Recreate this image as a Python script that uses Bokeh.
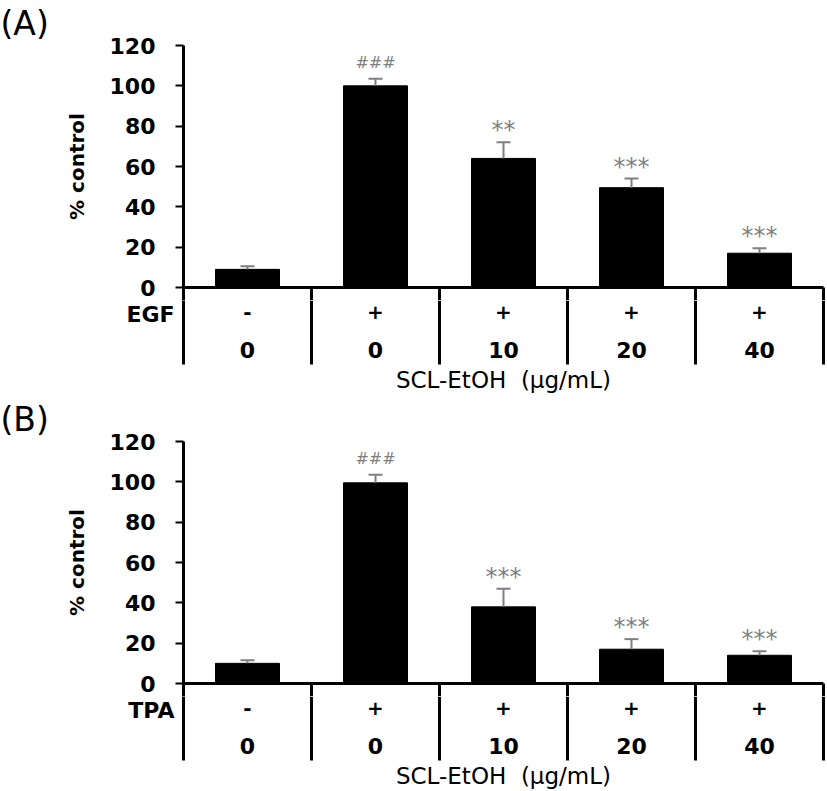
import math
from bokeh.plotting import figure
from bokeh.models import Range1d, FixedTicker, Whisker, TeeHead, ColumnDataSource, LinearAxis
from bokeh.layouts import column
from bokeh.embed import file_html
from bokeh.resources import INLINE
from bokeh.core.properties import value

# ---------------- data ----------------
stim_signs = ["-", "+", "+", "+", "+"]
doses = ["0", "0", "10", "20", "40"]

egf_mean = [9, 100, 64, 49.5, 17]
egf_err = [1.5, 3.5, 8, 4.5, 2.5]
egf_sig = ["", "###", "**", "***", "***"]

tpa_mean = [10, 99.5, 38, 17, 14]
tpa_err = [1.5, 4, 9, 5, 2]
tpa_sig = ["", "###", "***", "***", "***"]

y_ticks = [0, 20, 40, 60, 80, 100, 120]
panel_tags = ["(A)", "(B)"]
stimuli = ["EGF", "TPA"]
x_title = "SCL-EtOH\u00a0\u00a0(μg/mL)"
y_title = "% control"

# ---------------- layout constants ----------------
FIG_W = 827
LEFT = 183
TOP = 45
YMAX = 120
PPU = 242 / 120.0          # pixels per y unit
CAT_PX = 128.0             # pixels per category
TOP_H = 300                # height of the bar figure
FONT = "DejaVu Sans"
GRAY = "#7f7f7f"
ROW1 = -12                 # stimulus row (data units below 0)
ROW2 = -31                 # dose row
TITLE_Y = -46
TABLE_BOTTOM = -38.2
YLABEL_AT = 60


def px_to_y(py):
    return -py / PPU


def base_fig(**kw):
    p = figure(output_backend="svg", toolbar_location=None, **kw)
    p.grid.visible = False
    p.outline_line_color = None
    p.background_fill_color = "white"
    p.border_fill_color = "white"
    return p


def style_axis(ax, size):
    ax.major_label_text_font = FONT
    ax.major_label_text_font_style = "bold"
    ax.major_label_text_font_size = size
    ax.major_label_text_color = "black"
    ax.minor_tick_out = 0
    ax.minor_tick_in = 0
    ax.major_tick_in = 0


def make_panel(tag, stim, means, errs, sigs, bottom_h):
    n = len(means)
    zero_px = TOP + YMAX * PPU
    y_start = px_to_y(TOP_H - zero_px)
    x_end = (FIG_W - LEFT) / CAT_PX
    centers = [i + 0.5 for i in range(n)]
    uppers = [m + e for m, e in zip(means, errs)]
    bounds = list(range(n + 1))

    # ---------- bar figure ----------
    p = base_fig(width=FIG_W, height=TOP_H,
                 x_range=Range1d(0, x_end), y_range=Range1d(y_start, YMAX),
                 x_axis_location=None, y_axis_location="left",
                 min_border_left=LEFT, min_border_right=0, min_border_top=TOP,
                 min_border_bottom=0)
    p.title.text = tag
    p.title.align = "left"
    p.title.offset = -LEFT
    p.title.text_font = FONT
    p.title.text_font_size = "33px"
    p.title.text_font_style = "normal"
    p.title.text_color = "black"
    p.title.standoff = 2
    p.title.vertical_align = "top"

    ax = p.yaxis[0]
    ax.ticker = FixedTicker(ticks=y_ticks)
    ax.bounds = (y_start, YMAX)
    ax.axis_line_width = 3
    ax.axis_line_color = "black"
    ax.major_tick_line_width = 2
    ax.major_tick_out = 8
    ax.major_label_standoff = 20
    style_axis(ax, "22px")

    lab = LinearAxis(ticker=FixedTicker(ticks=[YLABEL_AT]),
                     major_label_overrides={YLABEL_AT: y_title},
                     major_label_orientation="vertical",
                     axis_line_color=None, major_tick_line_color=None,
                     minor_tick_line_color=None, major_label_standoff=18)
    style_axis(lab, "20px")
    lab.major_tick_out = 0
    p.add_layout(lab, "left")

    p.vbar(x=centers, top=means, bottom=0, width=0.5, fill_color="black", line_color="black")

    src = ColumnDataSource(dict(base=centers, lower=means, upper=uppers))
    p.add_layout(Whisker(base="base", lower="lower", upper="upper", source=src,
                         line_color=GRAY, line_width=2, lower_head=None,
                         upper_head=TeeHead(size=14, line_color=GRAY, line_width=2),
                         level="glyph"))

    p.segment(x0=[0], y0=[0], x1=[bounds[-1]], y1=[0], line_color="black", line_width=3)
    p.segment(x0=bounds[1:], y0=[0] * n, x1=bounds[1:], y1=[TABLE_BOTTOM] * n,
              line_color="black", line_width=3)

    hx = [c for c, s in zip(centers, sigs) if s.startswith("#")]
    hy = [u for u, s in zip(uppers, sigs) if s.startswith("#")]
    ht = [s for s in sigs if s.startswith("#")]
    sx = [c for c, s in zip(centers, sigs) if s.startswith("*")]
    sy = [u for u, s in zip(uppers, sigs) if s.startswith("*")]
    st = [s for s in sigs if s.startswith("*")]
    p.text(x=hx, y=hy, text=ht, text_align="center", text_baseline="middle", y_offset=-16,
           text_font=value(FONT), text_font_size="16px", text_color=GRAY)
    p.text(x=sx, y=sy, text=st, text_align="center", text_baseline="middle", y_offset=-12,
           text_font=value(FONT), text_font_size="24px", text_color=GRAY)

    # ---------- table figure ----------
    t_top = y_start
    t_bot = px_to_y(TOP_H + bottom_h - zero_px)
    q = base_fig(width=FIG_W, height=bottom_h,
                 x_range=Range1d(0, x_end), y_range=Range1d(t_bot, t_top),
                 x_axis_location=None, y_axis_location="left",
                 min_border_left=LEFT, min_border_right=0, min_border_top=0, min_border_bottom=0)
    qa = q.yaxis[0]
    qa.ticker = FixedTicker(ticks=[ROW1])
    qa.major_label_overrides = {ROW1: stim}
    qa.bounds = (TABLE_BOTTOM, t_top)
    qa.axis_line_width = 3
    qa.axis_line_color = "black"
    qa.major_tick_out = 0
    qa.major_tick_line_color = None
    qa.major_label_standoff = 9
    style_axis(qa, "22px")

    q.segment(x0=bounds[1:], y0=[t_top] * n, x1=bounds[1:], y1=[TABLE_BOTTOM] * n,
              line_color="black", line_width=3)
    q.text(x=centers, y=[ROW1] * n, text=stim_signs, text_align="center", text_baseline="middle",
           text_font=value(FONT), text_font_size="20px", text_font_style="bold", text_color="black")
    q.text(x=centers, y=[ROW2] * n, text=doses, text_align="center", text_baseline="middle",
           text_font=value(FONT), text_font_size="22px", text_font_style="bold", text_color="black")
    q.text(x=[n / 2.0], y=[TITLE_Y], text=[x_title], text_align="center", text_baseline="middle",
           text_font=value(FONT), text_font_size="23px", text_color="black")
    return [p, q]


panels = make_panel(panel_tags[0], stimuli[0], egf_mean, egf_err, egf_sig, 96) + \
         make_panel(panel_tags[1], stimuli[1], tpa_mean, tpa_err, tpa_sig, 95)

layout = column(*panels, spacing=0)
open("out.html", "w").write(file_html(layout, INLINE))
